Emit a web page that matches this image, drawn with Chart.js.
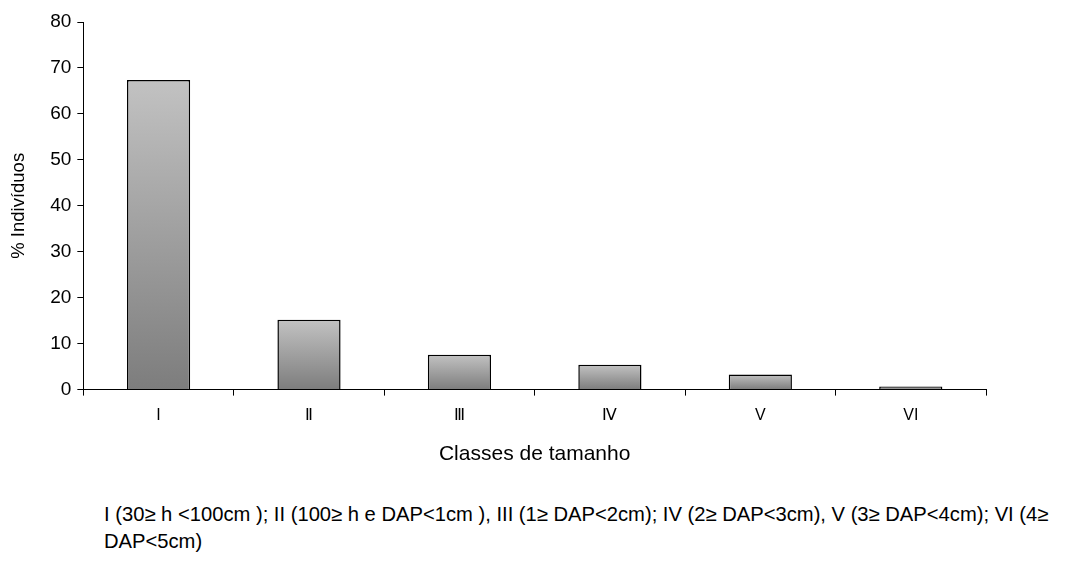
<!DOCTYPE html>
<html>
<head>
<meta charset="utf-8">
<script src="https://cdn.jsdelivr.net/npm/chart.js@4/dist/chart.umd.min.js"></script>
<style>
    html, body { margin: 0; padding: 0; background: #fff; }
    #wrap { position: relative; width: 1065px; height: 561px; }
    #myChart { position: absolute; left: 0; top: 0; }
    .nota {
        position: absolute;
        left: 104px;
        top: 501px;
        font-family: 'Liberation Sans', Arial, sans-serif;
        font-size: 20.2px;
        line-height: 27px;
        color: #000;
        white-space: nowrap;
    }
</style>
</head>
<body>
<div id="wrap">
    <canvas id="myChart" width="1065" height="467"></canvas>
    <div class="nota">
        I (30≥ h &lt;100cm ); II (100≥ h e DAP&lt;1cm ), III (1≥ DAP&lt;2cm); IV (2≥ DAP&lt;3cm), V (3≥ DAP&lt;4cm); VI (4≥<br>
        DAP&lt;5cm)
    </div>
</div>
<script>
const classes = ['I', 'Ⅱ', 'Ⅲ', 'Ⅳ', 'V', 'VI'];
const percentIndividuos = [67.4, 15.2, 7.6, 5.4, 3.3, 0.7];
const yTicks = [0, 10, 20, 30, 40, 50, 60, 70, 80];

document.addEventListener('DOMContentLoaded', () => {
    const ctx = document.getElementById('myChart').getContext('2d');
    const fontFamily = "'Liberation Sans', Arial, sans-serif";

    // each bar gets its own light-to-dark vertical gradient
    function barGradient(context) {
        const chart = context.chart;
        if (!chart.chartArea) return '#a0a0a0';
        const value = context.raw;
        const yScale = chart.scales.y;
        const top = yScale.getPixelForValue(value);
        const bottom = yScale.getPixelForValue(0);
        const g = chart.ctx.createLinearGradient(0, top, 0, bottom);
        g.addColorStop(0, '#c2c2c2');
        g.addColorStop(1, '#7d7d7d');
        return g;
    }

    const config = {
        type: 'bar',
        data: {
            labels: classes,
            datasets: [
                {
                    data: percentIndividuos,
                    backgroundColor: barGradient,
                    borderColor: '#000',
                    borderWidth: 1.5,
                    borderSkipped: 'bottom',
                    categoryPercentage: 0.42,
                    barPercentage: 1,
                },
            ],
        },
        options: {
            responsive: false,
            animation: false,
            layout: {
                padding: { left: 8, right: 79, top: 22, bottom: 0 },
            },
            plugins: {
                legend: { display: false },
                tooltip: { enabled: false },
            },
            scales: {
                x: {
                    border: { color: '#000', width: 1 },
                    grid: {
                        offset: true,
                        drawOnChartArea: false,
                        drawTicks: true,
                        tickLength: 6,
                        color: '#000',
                    },
                    ticks: {
                        color: '#000',
                        padding: 10,
                        font: { family: fontFamily, size: 16 },
                    },
                    title: {
                        display: true,
                        text: 'Classes de tamanho',
                        color: '#000',
                        padding: { top: 7, bottom: 0 },
                        font: { family: fontFamily, size: 21 },
                    },
                },
                y: {
                    min: 0,
                    max: 80,
                    afterBuildTicks: (axis) => {
                        axis.ticks = yTicks.map(v => ({ value: v }));
                    },
                    border: { color: '#000', width: 1 },
                    grid: {
                        drawOnChartArea: false,
                        drawTicks: true,
                        tickLength: 6,
                        color: '#000',
                    },
                    ticks: {
                        color: '#000',
                        padding: 6,
                        font: { family: fontFamily, size: 19 },
                    },
                    title: {
                        display: true,
                        text: '% Indivíduos',
                        color: '#000',
                        padding: { top: 0, bottom: 14 },
                        font: { family: fontFamily, size: 18.5 },
                    },
                },
            },
        },
    };

    new Chart(ctx, config);
});
</script>
</body>
</html>
